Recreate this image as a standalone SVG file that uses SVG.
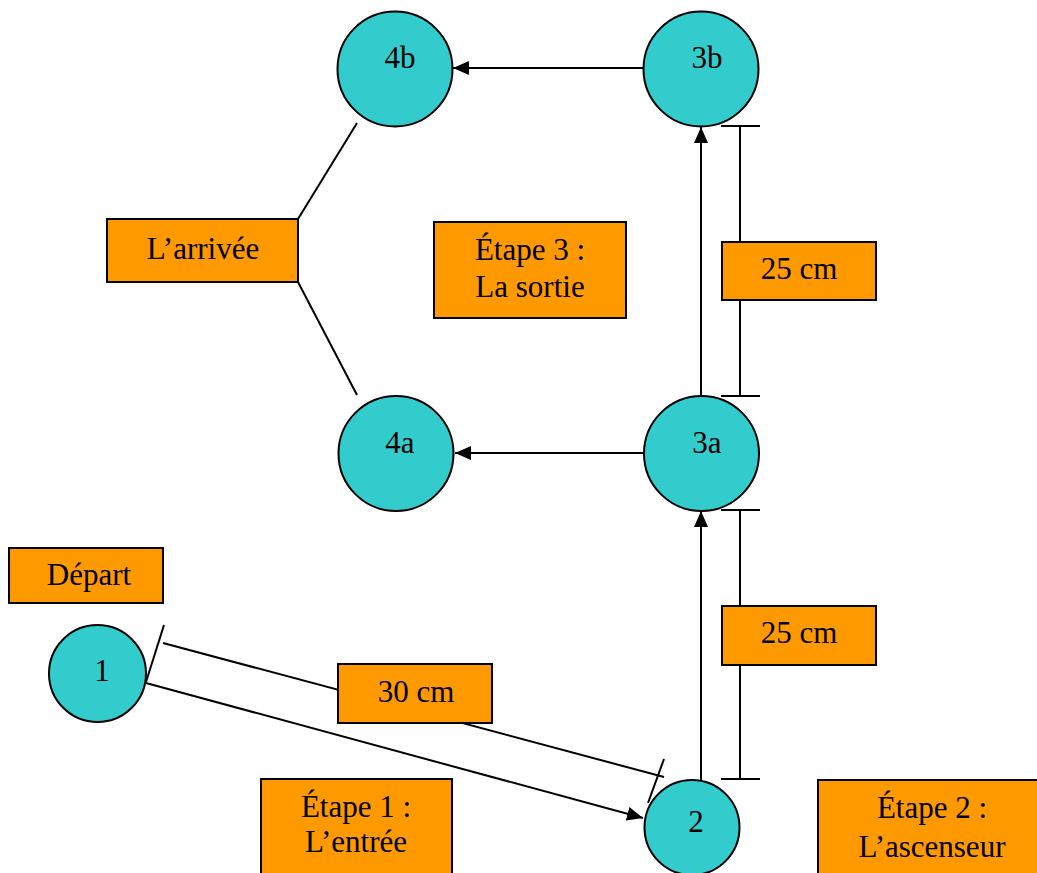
<svg xmlns="http://www.w3.org/2000/svg" width="1037" height="873" viewBox="0 0 1037 873">
<style>
.node{fill:#33CCCC;stroke:#000;stroke-width:2}
.box{fill:#FF9900;stroke:#000;stroke-width:2}
.ln{fill:none;stroke:#000;stroke-width:2}
text{font-family:"Liberation Serif","Times New Roman",serif;font-size:31px;fill:#000;text-anchor:middle}
</style>
<defs>
<marker id="ah" viewBox="0 0 16 14" markerWidth="16" markerHeight="14" refX="16" refY="7" markerUnits="userSpaceOnUse" orient="auto">
<path d="M0,0 L16,7 L0,14 Z" fill="#000"/>
</marker>
</defs>
<rect width="1037" height="873" fill="#fff"/>
<g id="connectors">
<line class="ln" x1="701" y1="780" x2="701" y2="511" marker-end="url(#ah)"/>
<line class="ln" x1="701" y1="396" x2="701" y2="127" marker-end="url(#ah)"/>
<line class="ln" x1="643" y1="68" x2="453" y2="68" marker-end="url(#ah)"/>
<line class="ln" x1="644" y1="453" x2="455" y2="453" marker-end="url(#ah)"/>
<line class="ln" x1="146" y1="683" x2="643" y2="818" marker-end="url(#ah)"/>
<line class="ln" x1="740" y1="126" x2="740" y2="396"/>
<line class="ln" x1="721" y1="126" x2="760" y2="126"/>
<line class="ln" x1="721" y1="396" x2="760" y2="396"/>
<line class="ln" x1="740" y1="510" x2="740" y2="779"/>
<line class="ln" x1="721" y1="510" x2="760" y2="510"/>
<line class="ln" x1="721" y1="779" x2="760" y2="779"/>
<line class="ln" x1="163" y1="643" x2="664" y2="777"/>
<line class="ln" x1="146" y1="682" x2="164" y2="625"/>
<line class="ln" x1="648" y1="803" x2="664" y2="759"/>
<line class="ln" x1="298" y1="219" x2="357" y2="123"/>
<line class="ln" x1="298" y1="282" x2="357" y2="395"/>
</g>
<g id="n4b"><circle class="node" cx="395" cy="69" r="57.5"/><text x="400" y="68">4b</text></g>
<g id="n3b"><circle class="node" cx="701" cy="69" r="57.5"/><text x="707" y="68">3b</text></g>
<g id="n4a"><circle class="node" cx="396" cy="453.5" r="57.5"/><text x="400" y="453">4a</text></g>
<g id="n3a"><circle class="node" cx="701.5" cy="453.5" r="57.5"/><text x="707" y="453">3a</text></g>
<g id="n1"><circle class="node" cx="97.5" cy="673.5" r="48.5"/><text x="102" y="681">1</text></g>
<g id="n2"><circle class="node" cx="692" cy="827.5" r="47.5"/><text x="696" y="832">2</text></g>
<g id="b-arrivee"><rect class="box" x="107" y="219" width="191" height="63"/><text x="203" y="259">L’arrivée</text></g>
<g id="b-etape3"><rect class="box" x="434" y="222" width="192" height="96"/><text x="530" y="260">Étape 3 :</text><text x="530" y="297">La sortie</text></g>
<g id="b-25a"><rect class="box" x="722" y="242" width="154" height="58"/><text x="799" y="279">25 cm</text></g>
<g id="b-25b"><rect class="box" x="722" y="606" width="154" height="59"/><text x="799" y="643">25 cm</text></g>
<g id="b-depart"><rect class="box" x="9" y="548" width="154" height="55"/><text x="89" y="585">Départ</text></g>
<g id="b-30"><rect class="box" x="338" y="664" width="154" height="59"/><text x="416" y="702">30 cm</text></g>
<g id="b-etape1"><rect class="box" x="261" y="779" width="191" height="110"/><text x="356" y="817">Étape 1 :</text><text x="356" y="852">L’entrée</text></g>
<g id="b-etape2"><rect class="box" x="818" y="780" width="230" height="110"/><text x="932" y="818">Étape 2 :</text><text x="932" y="857">L’ascenseur</text></g>
</svg>
